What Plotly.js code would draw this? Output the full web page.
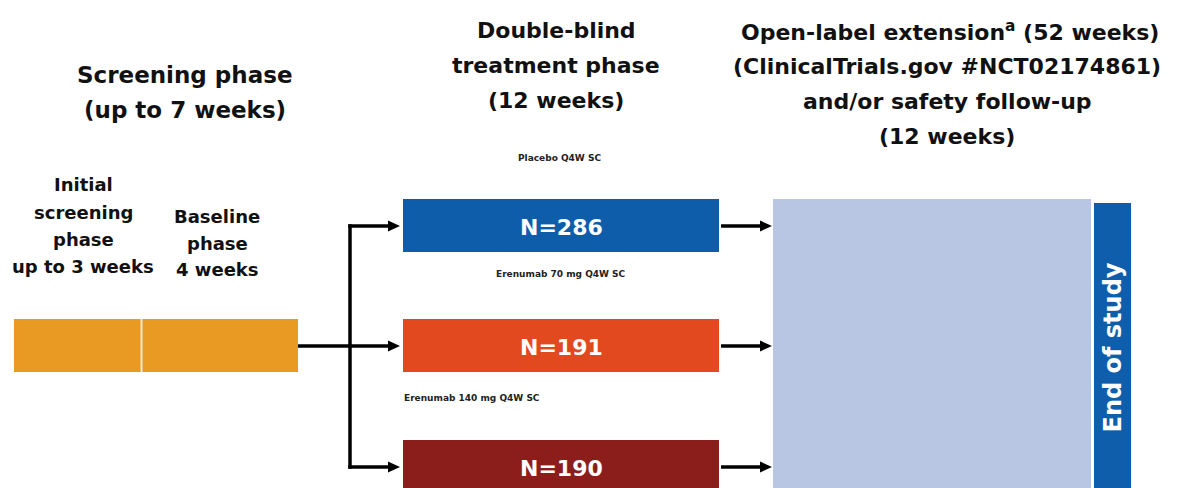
<!DOCTYPE html>
<html>
<head>
<meta charset="utf-8">
<script src="https://cdn.plot.ly/plotly-3.0.1.min.js"></script>
<style>html,body{margin:0;padding:0;background:#fff;}#chart{width:1178px;height:488px;}</style>
</head>
<body>
<div id="chart"></div>
<script>
// ---- content ----
const screeningTitle = ["Screening phase", "(up to 7 weeks)"];
const initialLabel = ["Initial", "screening", "phase", "up to 3 weeks"];
const baselineLabel = ["Baseline", "phase", "4 weeks"];
const treatmentTitle = ["Double-blind", "treatment phase", "(12 weeks)"];
const extensionTitle = ["Open-label extension<sup>a</sup> (52 weeks)", "(ClinicalTrials.gov #NCT02174861)", "and/or safety follow-up", "(12 weeks)"];
const arms = ["Placebo Q4W SC", "Erenumab 70 mg Q4W SC", "Erenumab 140 mg Q4W SC"];
const armN = [286, 191, 190];
const armColors = ["#0E5DAB", "#E2491F", "#8B1E1B"];
const endLabel = "End of study";

// ---- geometry (layout, pixel units) ----
const W = 1178, H = 488;
const FONT = "DejaVu Sans, Arial, sans-serif";
const armBoxY = [[199, 252], [319, 372], [440, 500]];
const armBoxX = [403, 719];
const armLabelPos = [[559, 158], [561, 274], [472, 398]];
const screenBar = {x0: 14, x1: 298, y0: 319, y1: 372, split: 141.5, color: "#E99A22"};
const olBox = {x0: 773, x1: 1091, y0: 199, y1: 500, color: "#B8C6E4"};
const endBar = {x0: 1094, x1: 1131, y0: 203, y1: 500, color: "#0E5EAC"};

const shapes = [];
const annotations = [];

function txt(text, x, y, size, opts) {
  annotations.push(Object.assign({
    text: text, x: x, y: y, xref: "x", yref: "y", showarrow: false,
    xanchor: "center", yanchor: "middle",
    font: {family: FONT, size: size, color: "#111", weight: "bold"}
  }, opts || {}));
}
function rect(x0, x1, y0, y1, color) {
  shapes.push({type: "rect", xref: "x", yref: "y", x0: x0, x1: x1, y0: y0, y1: y1,
    fillcolor: color, line: {width: 0}, layer: "below"});
}
function line(x0, y0, x1, y1) {
  shapes.push({type: "line", xref: "x", yref: "y", x0: x0, y0: y0, x1: x1, y1: y1,
    line: {color: "#000", width: 3.5}});
}
function arrow(x0, y, x1) {
  line(x0, y, x1 - 8, y);
  shapes.push({type: "path", xref: "x", yref: "y",
    path: "M" + (x1 - 12) + "," + (y - 5.5) + " L" + x1 + "," + y + " L" + (x1 - 12) + "," + (y + 5.5) + " Z",
    fillcolor: "#000", line: {width: 0}});
}

// headings
[75, 110].forEach((y, i) => txt(screeningTitle[i], 185, y, 23));
[184, 212, 239, 266].forEach((y, i) => txt(initialLabel[i], 83, y, 18));
[216, 243, 269].forEach((y, i) => txt(baselineLabel[i], 217, y, 18));
[30, 65, 100].forEach((y, i) => txt(treatmentTitle[i], 556, y, 22));
[31, 66, 101, 136].forEach((y, i) => txt(extensionTitle[i], i === 0 ? 950 : 947, y, 22));

// screening bar
rect(screenBar.x0, screenBar.x1, screenBar.y0, screenBar.y1, screenBar.color);
shapes.push({type: "line", xref: "x", yref: "y", x0: screenBar.split, x1: screenBar.split,
  y0: screenBar.y0, y1: screenBar.y1, line: {color: "#FCE9C8", width: 2}});

// connectors
const rowY = [226, 346, 467];
line(298, 346, 350, 346);
line(350, rowY[0] - 1.7, 350, rowY[2] + 1.7);

// arms
arms.forEach((name, i) => {
  rect(armBoxX[0], armBoxX[1], armBoxY[i][0], armBoxY[i][1], armColors[i]);
  txt("N=" + armN[i], (armBoxX[0] + armBoxX[1]) / 2, rowY[i] + 1, 22, {font: {family: FONT, size: 22, color: "#fff", weight: "bold"}});
  txt(name, armLabelPos[i][0], armLabelPos[i][1], 9, {font: {family: FONT, size: 9, color: "#222", weight: "bold"}});
  arrow(348.3, rowY[i], 400);
  arrow(721, rowY[i], 772);
});

// extension and end of study
rect(olBox.x0, olBox.x1, olBox.y0, olBox.y1, olBox.color);
rect(endBar.x0, endBar.x1, endBar.y0, endBar.y1, endBar.color);
txt(endLabel, (endBar.x0 + endBar.x1) / 2, 348, 24, {textangle: -90, font: {family: FONT, size: 24, color: "#fff", weight: "bold"}});

const layout = {
  width: W, height: H,
  margin: {l: 0, r: 0, t: 0, b: 0, pad: 0},
  paper_bgcolor: "#fff", plot_bgcolor: "#fff",
  xaxis: {range: [0, W], visible: false, fixedrange: true},
  yaxis: {range: [H, 0], visible: false, fixedrange: true},
  showlegend: false,
  shapes: shapes,
  annotations: annotations
};
Plotly.newPlot("chart", [], layout, {displayModeBar: false, staticPlot: true});
</script>
</body>
</html>
